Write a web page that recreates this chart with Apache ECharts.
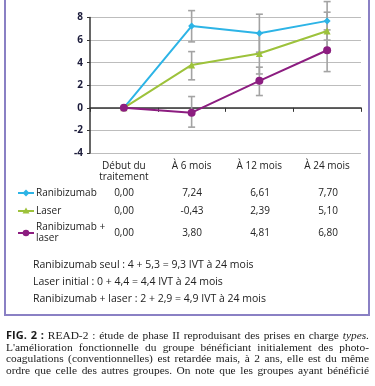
<!DOCTYPE html>
<html lang="fr">
<head>
  <meta charset="UTF-8">
  <title>READ-2</title>
  <script src="https://cdn.jsdelivr.net/npm/echarts@6/dist/echarts.min.js"></script>
  <style>
    html, body { margin: 0; padding: 0; background: #fff; }
  </style>
</head>
<body>
  <div id="main" style="width: 375px;height:386px;"></div>
<script type="text/javascript">
  // categories and values
  var categories = ['Début du\ntraitement', 'À 6 mois', 'À 12 mois', 'À 24 mois'];
  var ranibizumab = [0, 7.24, 6.61, 7.70];
  var laser = [0, -0.43, 2.39, 5.10];
  var ranibLaser = [0, 3.80, 4.81, 6.80];
  var yTicks = [-4, -2, 0, 2, 4, 6, 8];

  // error bars: [category index, low, high]
  var errRanib = [[1, 5.84, 8.61], [2, 4.93, 8.29], [3, 6.0, 9.41]];
  var errRanibLaser = [[1, 2.48, 4.98], [2, 3.0, 6.6], [3, 4.93, 8.47]];
  var errLaser = [[1, -1.71, 1.0], [2, 1.09, 3.6], [3, 3.21, 6.9]];

  var blue = '#2db4e6', green = '#9dc23b', purple = '#8c1d80';
  var sans = '"Open Sans", "Noto Sans", sans-serif';
  var serif = '"Liberation Serif", "DejaVu Serif", serif';

  var app = echarts.init(document.getElementById('main'));

  function errItem(params, api) {
    var x = api.coord([api.value(0), api.value(1)]);
    var y = api.coord([api.value(0), api.value(2)]);
    var st = { stroke: '#a3a3a3', lineWidth: 1.6 };
    return {
      type: 'group',
      children: [
        { type: 'line', shape: { x1: x[0], y1: x[1], x2: y[0], y2: y[1] }, style: st },
        { type: 'line', shape: { x1: x[0] - 3.5, y1: x[1], x2: x[0] + 3.5, y2: x[1] }, style: st },
        { type: 'line', shape: { x1: y[0] - 3.5, y1: y[1], x2: y[0] + 3.5, y2: y[1] }, style: st }
      ]
    };
  }

  function fmt(v) { return v.toFixed(2).replace('.', ','); }

  // table below the chart
  var colX = [124, 192, 260, 328];
  var rows = [
    { name: 'Ranibizumab', vals: ranibizumab, color: blue, sym: 'diamond', y: 193 },
    { name: 'Laser', vals: laser, color: green, sym: 'triangle', y: 211 },
    { name: 'Ranibizumab +\nlaser', vals: ranibLaser, color: purple, sym: 'circle', y: 233 }
  ];
  var graphics = [];
  graphics.push({
    type: 'rect', shape: { x: 5, y: -20, width: 364, height: 335 },
    style: { fill: 'none', stroke: '#8a80c4', lineWidth: 2 }, z: 0
  });
  rows.forEach(function (r) {
    graphics.push({ type: 'line', shape: { x1: 18, y1: r.y, x2: 34, y2: r.y },
      style: { stroke: r.color, lineWidth: 2 } });
    if (r.sym === 'circle') {
      graphics.push({ type: 'circle', shape: { cx: 26, cy: r.y, r: 3.3 }, style: { fill: r.color } });
    } else if (r.sym === 'triangle') {
      graphics.push({ type: 'polygon', shape: { points: [[26, r.y - 3.5], [29.5, r.y + 2.5], [22.5, r.y + 2.5]] }, style: { fill: r.color } });
    } else {
      graphics.push({ type: 'polygon', shape: { points: [[26, r.y - 3.5], [29.5, r.y], [26, r.y + 3.5], [22.5, r.y]] }, style: { fill: r.color } });
    }
    graphics.push({ type: 'text', x: 36, y: r.y, style: {
      text: r.name, font: '10px ' + sans, fill: '#222', verticalAlign: 'middle', lineHeight: 11 } });
    r.vals.forEach(function (v, i) {
      graphics.push({ type: 'text', x: colX[i], y: r.y, style: {
        text: fmt(v), font: '10px ' + sans, fill: '#222', align: 'center', verticalAlign: 'middle' } });
    });
  });
  var notes = [
    'Ranibizumab seul : 4 + 5,3 = 9,3 IVT à 24 mois',
    'Laser initial : 0 + 4,4 = 4,4 IVT à 24 mois',
    'Ranibizumab + laser : 2 + 2,9 = 4,9 IVT à 24 mois'
  ];
  notes.forEach(function (t, i) {
    graphics.push({ type: 'text', x: 33, y: 265 + i * 17, style: {
      text: t, font: '10.5px ' + sans, fill: '#222', verticalAlign: 'middle' } });
  });

  // caption, justified word by word between x=6 and x=369
  var capFont = '11.4px ' + serif;
  var caption = [
    [['b', 'FIG. 2 :'], ['', 'READ-2 : étude de phase II reproduisant des prises en charge'], ['i', 'types.']],
    [['', 'L\'amélioration fonctionnelle du groupe bénéficiant initialement des photo-']],
    [['', 'coagulations (conventionnelles) est retardée mais, à 2 ans, elle est du même']],
    [['', 'ordre que celle des autres groupes. On note que les groupes ayant bénéficié']]
  ];
  var fonts = { '': capFont, b: 'bold 11px ' + sans, i: 'italic ' + capFont };
  var ctx = document.createElement('canvas').getContext('2d');
  caption.forEach(function (line, li) {
    var words = [];
    line.forEach(function (seg) {
      seg[1].split(' ').forEach(function (w) {
        ctx.font = fonts[seg[0]];
        words.push({ t: w, f: fonts[seg[0]], w: ctx.measureText(w).width });
      });
    });
    var total = 0;
    words.forEach(function (w) { total += w.w; });
    var gap = (363 - total) / (words.length - 1);
    var x = 6;
    words.forEach(function (w) {
      graphics.push({ type: 'text', x: x, y: 336 + li * 11.7, style: {
        text: w.t, font: w.f, fill: '#1a1a1a', verticalAlign: 'middle' } });
      x += w.w + gap;
    });
  });

  var option = {
    animation: false,
    grid: { left: 90, right: 14, top: 17.5, height: 135.5 },
    xAxis: {
      type: 'category',
      data: categories,
      boundaryGap: true,
      axisLine: { lineStyle: { color: '#333', width: 1.5 } },
      axisTick: { show: true, length: 4, lineStyle: { color: '#333' } },
      axisLabel: { margin: 8, fontSize: 10, lineHeight: 11, color: '#222', fontFamily: sans, interval: 0 },
      splitLine: { show: false }
    },
    yAxis: {
      type: 'value',
      min: yTicks[0], max: yTicks[yTicks.length - 1], interval: 2,
      axisLine: { show: true, lineStyle: { color: '#333', width: 1.5 } },
      axisTick: { show: true, length: 3, lineStyle: { color: '#333' } },
      axisLabel: { margin: 7, fontSize: 10, color: '#1b1b3a', fontFamily: sans, fontWeight: 'bold' },
      splitLine: { lineStyle: { color: '#bdbdbd', width: 1 } }
    },
    series: [
      { type: 'custom', renderItem: errItem, data: errRanib, z: 1, clip: false },
      { type: 'custom', renderItem: errItem, data: errRanibLaser, z: 1, clip: false },
      { type: 'custom', renderItem: errItem, data: errLaser, z: 1, clip: false },
      { name: 'Ranibizumab', type: 'line', data: ranibizumab, color: blue, symbol: 'diamond', symbolSize: 7,
        lineStyle: { width: 2 }, z: 3 },
      // as in the picture, the green curve carries the "Ranibizumab + laser" values
      { name: 'Laser', type: 'line', data: ranibLaser, color: green, symbol: 'triangle', symbolSize: 7,
        lineStyle: { width: 2 }, z: 3 },
      { name: 'Ranibizumab + laser', type: 'line', data: laser, color: purple, symbol: 'circle', symbolSize: 8,
        lineStyle: { width: 2 }, z: 3 }
    ],
    graphic: graphics
  };
  app.setOption(option);
</script>
</body>
</html>
